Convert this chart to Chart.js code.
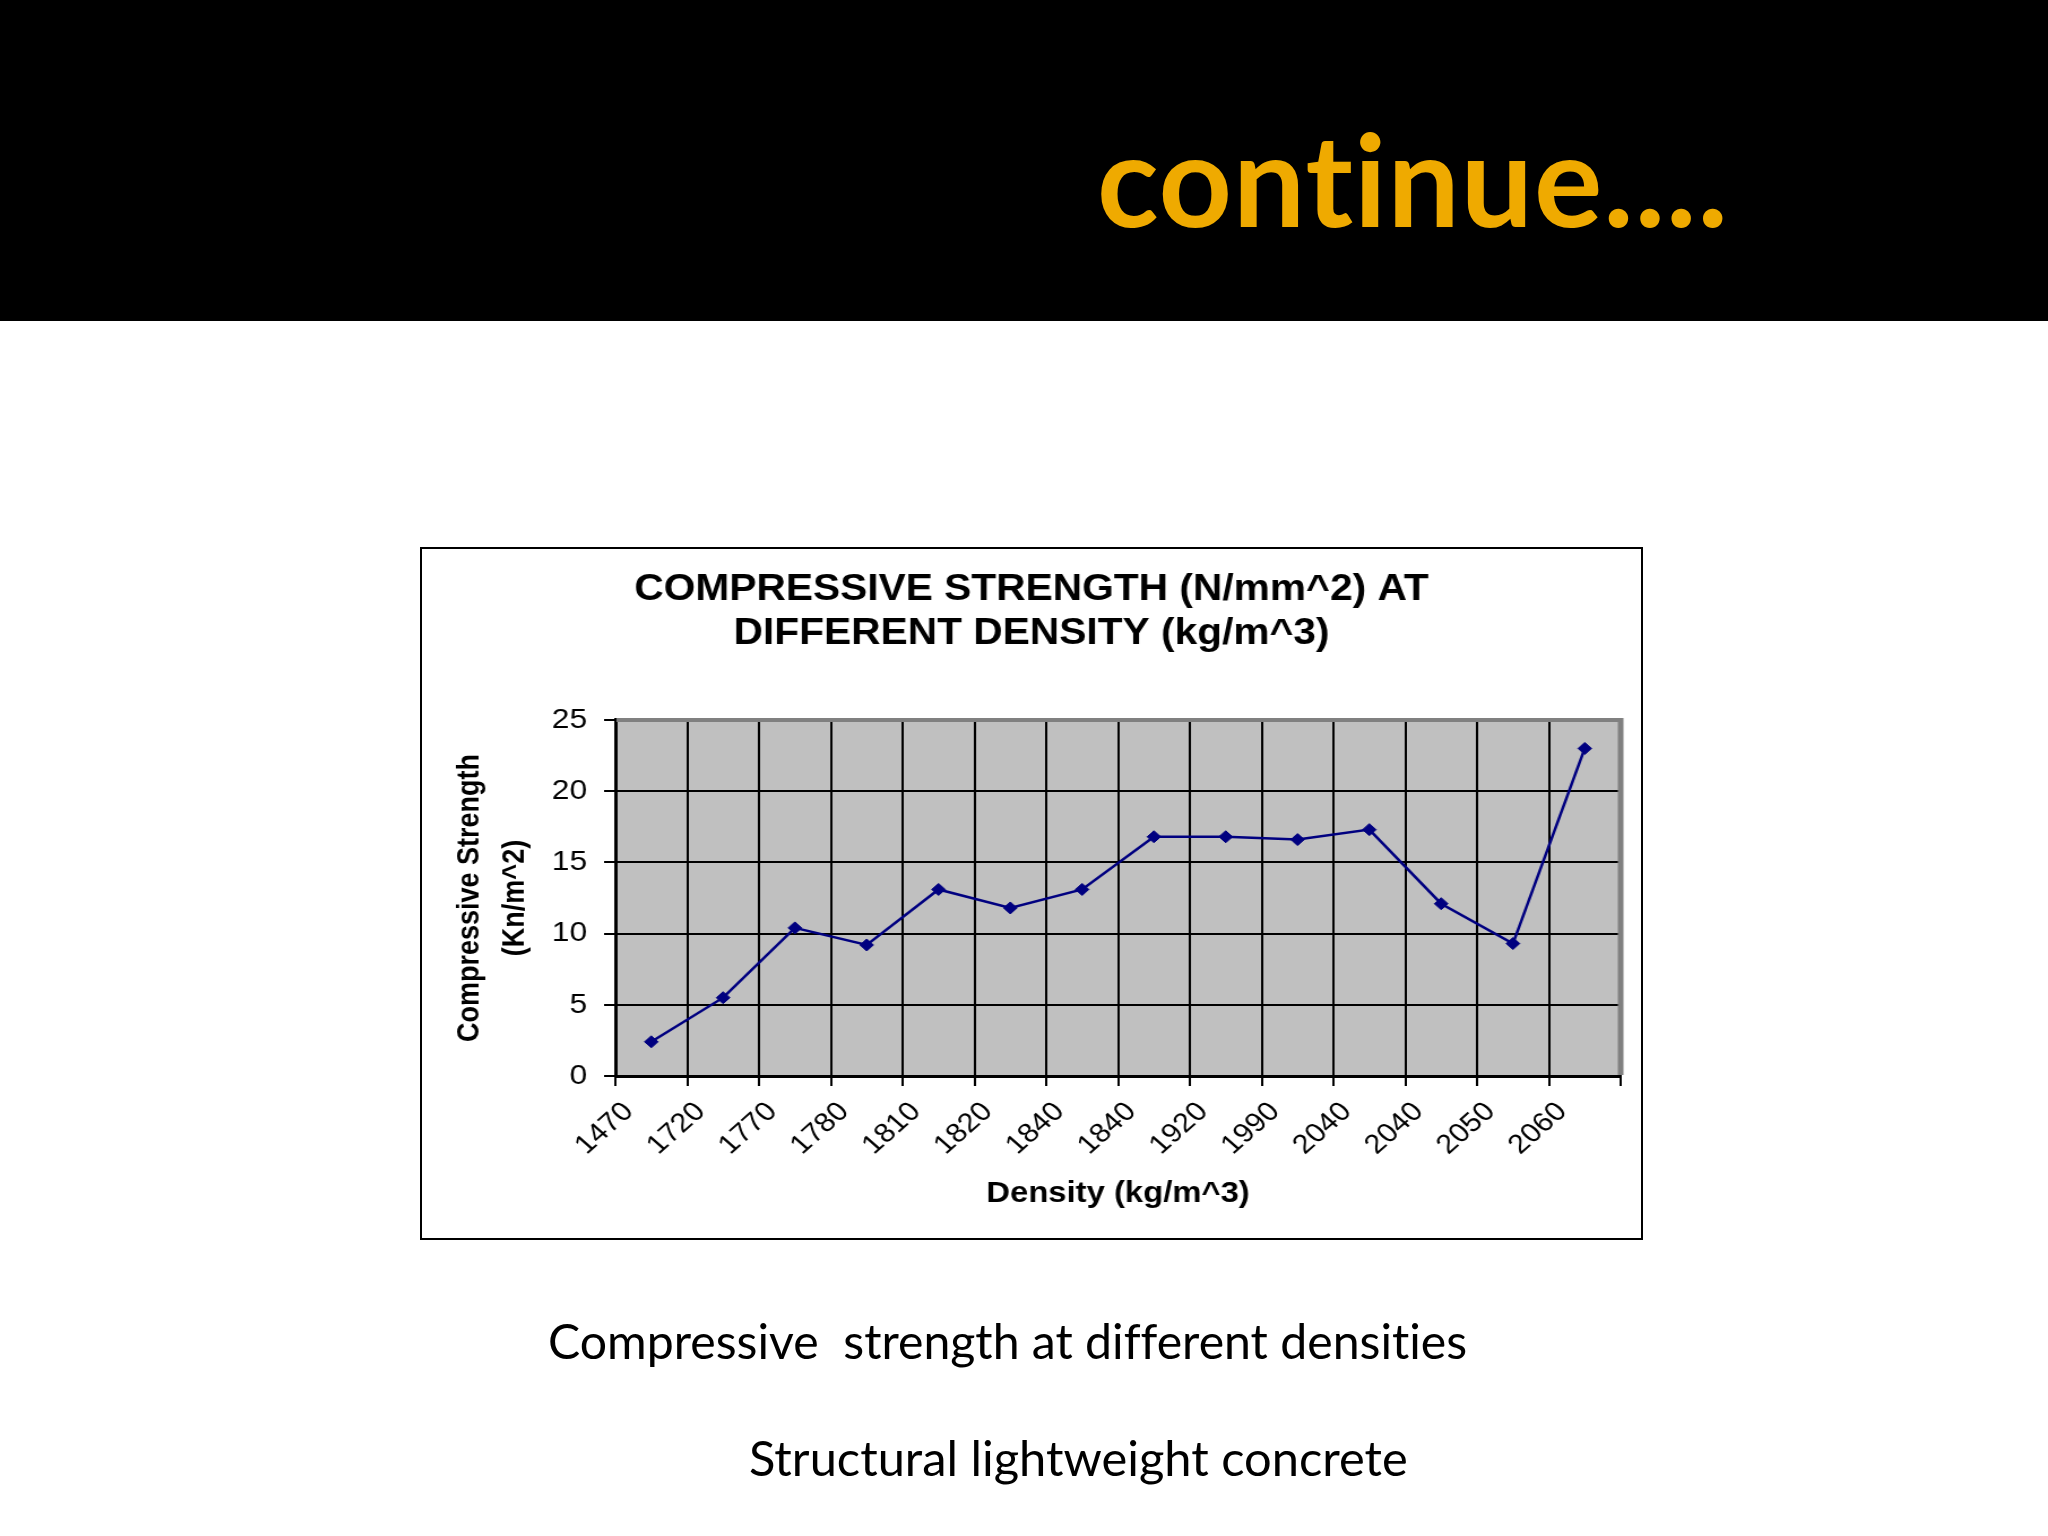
<!DOCTYPE html>
<html>
<head>
<meta charset="utf-8">
<script src="https://cdn.jsdelivr.net/npm/chart.js@4.4.0/dist/chart.umd.min.js"></script>
<style>
  html, body { margin: 0; padding: 0; background: #ffffff; }
  body { width: 2048px; height: 1536px; position: relative; overflow: hidden; }
  #hdr { position: absolute; left: 0; top: 0; width: 2048px; height: 321px; background: #000000; }
  #slideTitle { position: absolute; left: 1097px; top: 114px; font-family: Lato, "Open Sans", sans-serif; font-weight: bold; font-size: 128px; line-height: 128px; color: #EFAA00; white-space: nowrap; font-variant-ligatures: none; font-feature-settings: "liga" 0, "clig" 0; letter-spacing: 1px; }
  #box { position: absolute; left: 420px; top: 547px; width: 1223px; height: 693px; border: 2px solid #000000; box-sizing: border-box; background: #ffffff; overflow: hidden; }
  #cv { position: absolute; left: 0; top: 0; transform-origin: 0 0; transform: scaleX(1.1308); }
  .cap { position: absolute; font-family: Lato, "Open Sans", sans-serif; font-size: 48px; line-height: 48px; color: #000000; white-space: pre; font-variant-ligatures: none; font-feature-settings: "liga" 0, "clig" 0; }
</style>
</head>
<body>
<div id="hdr"><div id="slideTitle">continue....</div></div>
<div id="box"><canvas id="cv" width="1078" height="689"></canvas></div>
<div class="cap" style="left:548px; top:1316px; font-size:48.2px;">Compressive  strength at different densities</div>
<div class="cap" style="left:749px; top:1433px; font-size:48.8px;">Structural lightweight concrete</div>
<script>
// ---- data ----
const categories = ['1470', '1720', '1770', '1780', '1810', '1820', '1840', '1840', '1920', '1990', '2040', '2040', '2050', '2060'];
const strength = [2.4, 5.5, 10.4, 9.2, 13.1, 11.8, 13.1, 16.8, 16.8, 16.6, 17.3, 12.1, 9.3, 23.0];
const yTicks = [0, 5, 10, 15, 20, 25];
const chartTitle = ['COMPRESSIVE STRENGTH (N/mm^2) AT', 'DIFFERENT DENSITY (kg/m^3)'];
const xTitle = 'Density (kg/m^3)';
const yTitle = ['Compressive Strength', '(Kn/m^2)'];

const FAM = '"Liberation Sans", Arial, Helvetica, sans-serif';

const plotFrame = {
  id: 'plotFrame',
  beforeDraw(chart) {
    const { ctx, chartArea: a } = chart;
    ctx.save();
    ctx.fillStyle = '#C0C0C0';
    ctx.fillRect(a.left, a.top, a.right - a.left, a.bottom - a.top);
    ctx.restore();
  },
  beforeDatasetsDraw(chart) {
    const { ctx, chartArea: a } = chart;
    ctx.save();
    ctx.strokeStyle = '#808080';
    ctx.lineWidth = 4;
    ctx.beginPath();
    ctx.moveTo(a.left + 1, a.top);
    ctx.lineTo(a.right, a.top);
    ctx.stroke();
    ctx.lineWidth = 5;
    ctx.beginPath();
    ctx.moveTo(a.right, a.top - 2);
    ctx.lineTo(a.right, a.bottom - 1);
    ctx.stroke();
    ctx.restore();
  }
};

new Chart(document.getElementById('cv'), {
  type: 'line',
  data: {
    labels: categories,
    datasets: [{
      data: strength,
      borderColor: '#000080',
      borderWidth: 2.5,
      backgroundColor: '#000080',
      pointStyle: 'rectRot',
      pointRadius: 6,
      pointBackgroundColor: '#000080',
      pointBorderColor: '#000080',
      pointBorderWidth: 1,
      tension: 0,
      fill: false
    }]
  },
  options: {
    responsive: false,
    animation: false,
    devicePixelRatio: 1,
    layout: { padding: { left: 18, right: 18, top: 0, bottom: 0 } },
    plugins: {
      legend: { display: false },
      tooltip: { enabled: false },
      title: {
        display: true,
        text: chartTitle,
        color: '#000000',
        font: { family: FAM, size: 36, weight: 'bold', lineHeight: 1.222 },
        padding: { top: 19, bottom: 64 }
      }
    },
    scales: {
      x: {
        type: 'category',
        offset: true,
        grid: { offset: true, color: '#000000', lineWidth: 2, tickLength: 10, tickColor: '#000000', tickWidth: 2 },
        border: { display: true, color: '#000000', width: 3 },
        ticks: {
          autoSkip: false, maxRotation: 45, minRotation: 45,
          color: '#000000', font: { family: FAM, size: 27 },
          padding: 10, labelOffset: -20
        },
        title: {
          display: true, text: xTitle, color: '#000000',
          font: { family: FAM, size: 29, weight: 'bold' },
          padding: { top: 0, bottom: 27 }
        },
        afterFit(s) { s.height = 162; }
      },
      y: {
        min: 0, max: 25,
        afterBuildTicks(s) { s.ticks = yTicks.map(v => ({ value: v })); },
        grid: { color: '#000000', lineWidth: 2, tickLength: 10, tickColor: '#000000', tickWidth: 2 },
        border: { display: true, color: '#000000', width: 3 },
        ticks: { color: '#000000', font: { family: FAM, size: 28 }, padding: 15 },
        title: {
          display: true, text: yTitle, color: '#000000',
          font: { family: FAM, size: 27, weight: 'bold', lineHeight: 1.48 },
          padding: { top: 5, bottom: 0 }
        },
        afterFit(s) { s.width = 153; }
      }
    }
  },
  plugins: [plotFrame]
});
</script>
</body>
</html>
